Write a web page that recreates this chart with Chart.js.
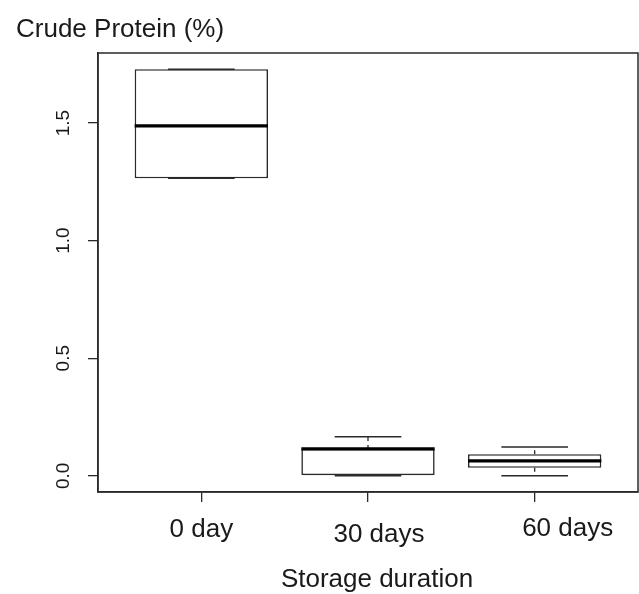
<!DOCTYPE html>
<html><head><meta charset="utf-8">
<script src="https://cdn.jsdelivr.net/npm/chart.js@4"></script>
<style>html,body{margin:0;padding:0;background:#fff;} canvas{display:block;}</style>
</head><body>
<canvas id="c" width="639" height="594"></canvas>
<script>
// ---- data ----
const categories = ['0 day', '30 days', '60 days'];
const whiskerLow  = [1.265, 0.000, 0.000];
const q1          = [1.265, 0.000, 0.034];
const median      = [1.488, 0.114, 0.063];
const q3          = [1.729, 0.114, 0.092];
const whiskerHigh = [1.729, 0.166, 0.122];
const yTicks      = [0, 0.5, 1.0, 1.5];
const yTickLabels = ['0.0', '0.5', '1.0', '1.5'];
const chartTitle  = 'Crude Protein (%)';
const xTitle      = 'Storage duration';

// ---- derived datasets ----
const pos = categories.map((c, i) => i + 1);
const boxData = pos.map((x, i) => ({x: x, y: [q1[i], q3[i]]}));
function segs(list) {
  const out = [];
  list.forEach(s => { out.push({x: s[0], y: s[1]}, {x: s[2], y: s[3]}, {x: s[2], y: null}); });
  return out;
}
const medianSegs = segs(pos.map((x, i) => [x - 0.4, median[i], x + 0.4, median[i]]));
const whiskerSegs = segs([].concat(
  pos.map((x, i) => [x, q3[i], x, whiskerHigh[i]]),
  pos.map((x, i) => [x, q1[i], x, whiskerLow[i]])
));
const stapleSegs = segs([].concat(
  pos.map((x, i) => [x - 0.2, whiskerHigh[i], x + 0.2, whiskerHigh[i]]),
  pos.map((x, i) => [x - 0.2, whiskerLow[i], x + 0.2, whiskerLow[i]])
));

const INK = '#2a2a2a';
const FONT = '"Liberation Sans", Arial, sans-serif';

const textPlugin = {
  id: 'rtext',
  afterDraw(chart) {
    const ctx = chart.ctx, a = chart.chartArea, xs = chart.scales.x;
    ctx.save();
    ctx.strokeStyle = INK; ctx.lineWidth = 1.5;
    ctx.strokeRect(a.left, a.top, a.right - a.left, a.bottom - a.top);
    ctx.fillStyle = '#1a1a1a';
    ctx.font = '26px ' + FONT;
    ctx.textBaseline = 'alphabetic';
    ctx.textAlign = 'left';
    ctx.fillText(chartTitle, 16, 37);
    ctx.textAlign = 'center';
    const dx = [0, 11, 33], dy = [45, 50, 44];
    categories.forEach((c, i) => {
      ctx.fillText(c, xs.getPixelForValue(pos[i]) + dx[i], a.bottom + dy[i]);
    });
    ctx.fillText(xTitle, xs.getPixelForValue(2) + 9, a.bottom + 95);
    ctx.restore();
  }
};

new Chart(document.getElementById('c'), {
  type: 'bar',
  data: {
    datasets: [
      { type: 'bar', data: boxData, backgroundColor: '#ffffff', borderColor: INK,
        borderWidth: 1.6, borderSkipped: false, barPercentage: 0.8, categoryPercentage: 1, order: 10 },
      { type: 'line', data: whiskerSegs, borderColor: INK, borderWidth: 1.3, borderDash: [4, 4],
        pointRadius: 0, spanGaps: false, fill: false, tension: 0, order: 3 },
      { type: 'line', data: stapleSegs, borderColor: INK, borderWidth: 1.5,
        pointRadius: 0, spanGaps: false, fill: false, tension: 0, order: 2 },
      { type: 'line', data: medianSegs, borderColor: '#000', borderWidth: 3.2,
        pointRadius: 0, spanGaps: false, fill: false, tension: 0, order: 1 }
    ]
  },
  options: {
    responsive: false,
    animation: false,
    events: [],
    layout: { padding: { top: 53, right: 1, left: 0, bottom: 0 } },
    plugins: { legend: { display: false }, tooltip: { enabled: false }, title: { display: false } },
    scales: {
      x: {
        type: 'linear', min: 0.38, max: 3.62, offset: false,
        afterBuildTicks: s => { s.ticks = pos.map(v => ({value: v})); },
        afterFit: s => { s.height = 102; },
        ticks: { display: false },
        grid: { offset: false, drawOnChartArea: false, drawTicks: true, tickLength: 10, color: INK, lineWidth: 1.3 },
        border: { display: true, color: INK, width: 1.5 }
      },
      y: {
        type: 'linear', min: -0.069, max: 1.798,
        afterBuildTicks: s => { s.ticks = yTicks.map(v => ({value: v})); },
        afterFit: s => { s.width = 98; },
        ticks: {
          minRotation: 90, maxRotation: 90, crossAlign: 'center', padding: 11,
          color: '#1a1a1a',
          font: { family: FONT, size: 19 },
          callback: v => yTickLabels[yTicks.indexOf(v)]
        },
        grid: { drawOnChartArea: false, drawTicks: true, tickLength: 10, color: INK, lineWidth: 1.3 },
        border: { display: true, color: INK, width: 1.5 }
      }
    }
  },
  plugins: [textPlugin]
});
</script>
</body></html>
